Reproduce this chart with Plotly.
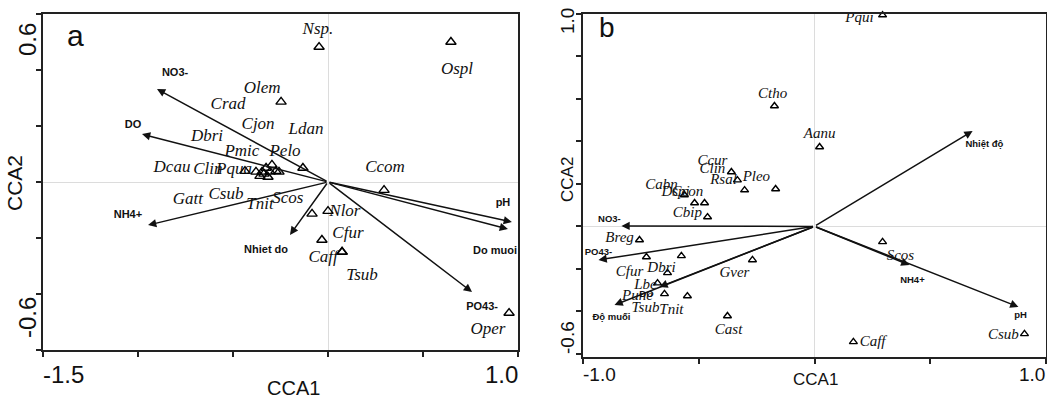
import plotly.graph_objects as go

W, H = 1047, 403

# ---------------- Panel a data ----------------
A_SPECIES = ["Nsp.", "Ospl", "Olem", "Pelo", "Ccom", "Nlor", "Scos", "Cfur", "Caff", "Tsub", "Oper",
             "Pqua", "Clin", "Dcau", "Dbri", "Pmic", "Crad", "Cjon", "Ldan", "Gatt", "Csub", "Tnit"]
A_SP_X = [-0.047, 0.647, -0.247, -0.132, 0.295, 0.000, -0.084, -0.032, 0.074, 0.074, 0.953,
          -0.437, -0.379, -0.358, -0.326, -0.316, -0.295, -0.274, -0.258, -0.347, -0.305, -0.337]
A_SP_Y = [0.482, 0.500, 0.286, 0.050, -0.029, -0.104, -0.114, -0.207, -0.250, -0.250, -0.468,
          0.039, 0.036, 0.021, 0.050, 0.018, 0.061, 0.039, 0.036, 0.036, 0.036, 0.029]
A_LAB_X = [-0.053, 0.679, -0.347, -0.226, 0.300, 0.089, -0.211, 0.105, -0.026, 0.179, 0.842,
           -0.495, -0.632, -0.821, -0.637, -0.453, -0.526, -0.368, -0.116, -0.737, -0.537, -0.358]
A_LAB_Y = [0.543, 0.400, 0.332, 0.107, 0.050, -0.107, -0.061, -0.186, -0.271, -0.336, -0.529,
           0.043, 0.043, 0.050, 0.161, 0.107, 0.275, 0.204, 0.186, -0.064, -0.046, -0.082]

A_ENV = ["NO3-", "DO", "NH4+", "Nhiet do", "pH", "Do muoi", "PO43-"]
A_ENV_X = [-0.900, -0.979, -0.947, -0.200, 0.968, 0.947, 0.758]
A_ENV_Y = [0.332, 0.171, -0.154, -0.189, -0.143, -0.168, -0.393]
A_ENV_LX = [-0.805, -1.026, -1.053, -0.326, 0.921, 0.879, 0.811]
A_ENV_LY = [0.389, 0.204, -0.118, -0.243, -0.075, -0.246, -0.446]

# ---------------- Panel b data ----------------
B_SPECIES = ["Pqui", "Ctho", "Aanu", "Ccur", "Clin", "Rsal", "Pleo", "Cabn", "Dspi", "Ccon", "Cbip",
             "Breg", "Cfur", "Dbri", "Gver", "Lbe", "Pune", "Tsub", "Tnit", "Cast", "Scos", "Caff", "Csub"]
B_SP_X = [0.294, -0.173, 0.022, -0.359, -0.302, -0.333, -0.168, -0.562, -0.518, -0.475, -0.462,
          -0.756, -0.726, -0.635, -0.268, -0.678, -0.648, -0.575, -0.549, -0.376, 0.294, 0.168, 0.907]
B_SP_Y = [0.995, 0.567, 0.374, 0.256, 0.171, 0.218, 0.176, 0.148, 0.110, 0.110, 0.044,
          -0.064, -0.144, -0.219, -0.158, -0.267, -0.318, -0.139, -0.328, -0.422, -0.073, -0.544, -0.506]
B_LAB_X = [0.194, -0.181, 0.022, -0.441, -0.441, -0.393, -0.251, -0.661, -0.600, -0.549, -0.549,
           -0.842, -0.799, -0.661, -0.346, -0.730, -0.765, -0.730, -0.618, -0.371, 0.371, 0.251, 0.816]
B_LAB_Y = [0.981, 0.623, 0.435, 0.308, 0.270, 0.218, 0.233, 0.195, 0.162, 0.162, 0.063,
           -0.054, -0.215, -0.196, -0.219, -0.276, -0.328, -0.384, -0.394, -0.488, -0.139, -0.544, -0.511]

B_ENV = ["Nhiệt độ", "NO3-", "PO43-", "Độ muối", "DO", "NH4+", "pH"]
B_ENV_X = [0.683, -0.834, -0.933, -0.864, -0.670, 0.410, 0.881]
B_ENV_Y = [0.449, 0.002, -0.158, -0.370, -0.285, -0.182, -0.379]
B_ENV_LX = [0.734, -0.886, -0.933, -0.877, -0.726, 0.423, 0.890]
B_ENV_LY = [0.383, 0.030, -0.125, -0.431, -0.323, -0.257, -0.422]

SERIF = "Liberation Serif"
SANS = "Liberation Sans"

fig = go.Figure()

def add_panel(xa, ya, sx, sy, names, lx, ly, env, ex, ey, elx, ely, msize, sp_font, env_font):
    fig.add_trace(go.Scatter(x=sx, y=sy, mode="markers", xaxis=xa, yaxis=ya, cliponaxis=False,
                             marker=dict(symbol="triangle-up-open", size=msize, color="black",
                                         line=dict(width=1.4, color="black")),
                             hoverinfo="skip", showlegend=False))
    fig.add_trace(go.Scatter(x=lx, y=ly, text=names, mode="text", xaxis=xa, yaxis=ya, cliponaxis=False,
                             textfont=dict(family=SERIF, size=sp_font, style="italic", color="#111"),
                             hoverinfo="skip", showlegend=False))
    fig.add_trace(go.Scatter(x=elx, y=ely, text=env, mode="text", xaxis=xa, yaxis=ya, cliponaxis=False,
                             textfont=dict(family=SANS, size=env_font, weight="bold", color="#111"),
                             hoverinfo="skip", showlegend=False))
    for x, y in zip(ex, ey):
        fig.add_annotation(x=x, y=y, ax=0, ay=0, xref=xa, yref=ya, axref=xa, ayref=ya,
                           text="", showarrow=True, arrowhead=2, arrowsize=1.1,
                           arrowwidth=1.5, arrowcolor="#111", standoff=0, startstandoff=0)

add_panel("x", "y", A_SP_X, A_SP_Y, A_SPECIES, A_LAB_X, A_LAB_Y,
          A_ENV, A_ENV_X, A_ENV_Y, A_ENV_LX, A_ENV_LY, 9, 17, 11)
add_panel("x2", "y2", B_SP_X, B_SP_Y, B_SPECIES, B_LAB_X, B_LAB_Y,
          B_ENV, B_ENV_X, B_ENV_Y, B_ENV_LX, B_ENV_LY, 7, 15, 9.5)

def ax_style(rng, tick0, dtick, dom, anchor):
    return dict(range=rng, tick0=tick0, dtick=dtick, domain=dom, anchor=anchor,
                showticklabels=False, ticks="outside", ticklen=5, tickwidth=1.5, tickcolor="#222",
                showline=True, linecolor="#222", linewidth=1.6, mirror=True,
                showgrid=False, zeroline=True, zerolinecolor="#dcdcdc", zerolinewidth=1,
                fixedrange=True)

fig.update_layout(
    width=W, height=H, margin=dict(l=0, r=0, t=0, b=0),
    paper_bgcolor="white", plot_bgcolor="white",
    xaxis=ax_style([-1.5, 1.0], -1.5, 0.5, [43 / W, 518 / W], "y"),
    yaxis=ax_style([-0.6, 0.6], -0.6, 0.2, [1 - 350 / H, 1 - 14 / H], "x"),
    xaxis2=ax_style([-1.0, 1.0], -1.0, 0.5, [583 / W, 1046 / W], "y2"),
    yaxis2=ax_style([-0.615, 1.0], -0.6, 0.2, [1 - 357 / H, 1 - 14 / H], "x2"),
)

def ptxt(text, px, py, size, xanchor="center", angle=0, family=SANS):
    fig.add_annotation(x=px / W, y=1 - py / H, xref="paper", yref="paper", text=text,
                       showarrow=False, xanchor=xanchor, yanchor="middle", textangle=angle,
                       font=dict(family=family, size=size, color="#111"))

# panel a axis texts
ptxt("-1.5", 41, 374, 24, "left")
ptxt("1.0", 520, 374, 24, "right")
ptxt("CCA1", 293, 388, 20)
ptxt("0.6", 27, 40, 24, angle=-90)
ptxt("-0.6", 27, 318, 24, angle=-90)
ptxt("CCA2", 15, 183, 21, angle=-90)
ptxt("a", 75, 36, 30)
# panel b axis texts
ptxt("-1.0", 581, 374, 19, "left")
ptxt("1.0", 1047, 374, 19, "right")
ptxt("CCA1", 815, 379, 17)
ptxt("1.0", 567, 21, 19, angle=-90)
ptxt("-0.6", 567, 338, 19, angle=-90)
ptxt("CCA2", 567, 180, 17, angle=-90)
ptxt("b", 607, 28, 28)

fig.write_html("out.html", config={"displayModeBar": False},
               post_script="document.body.style.margin='0';document.body.style.padding='0';")
